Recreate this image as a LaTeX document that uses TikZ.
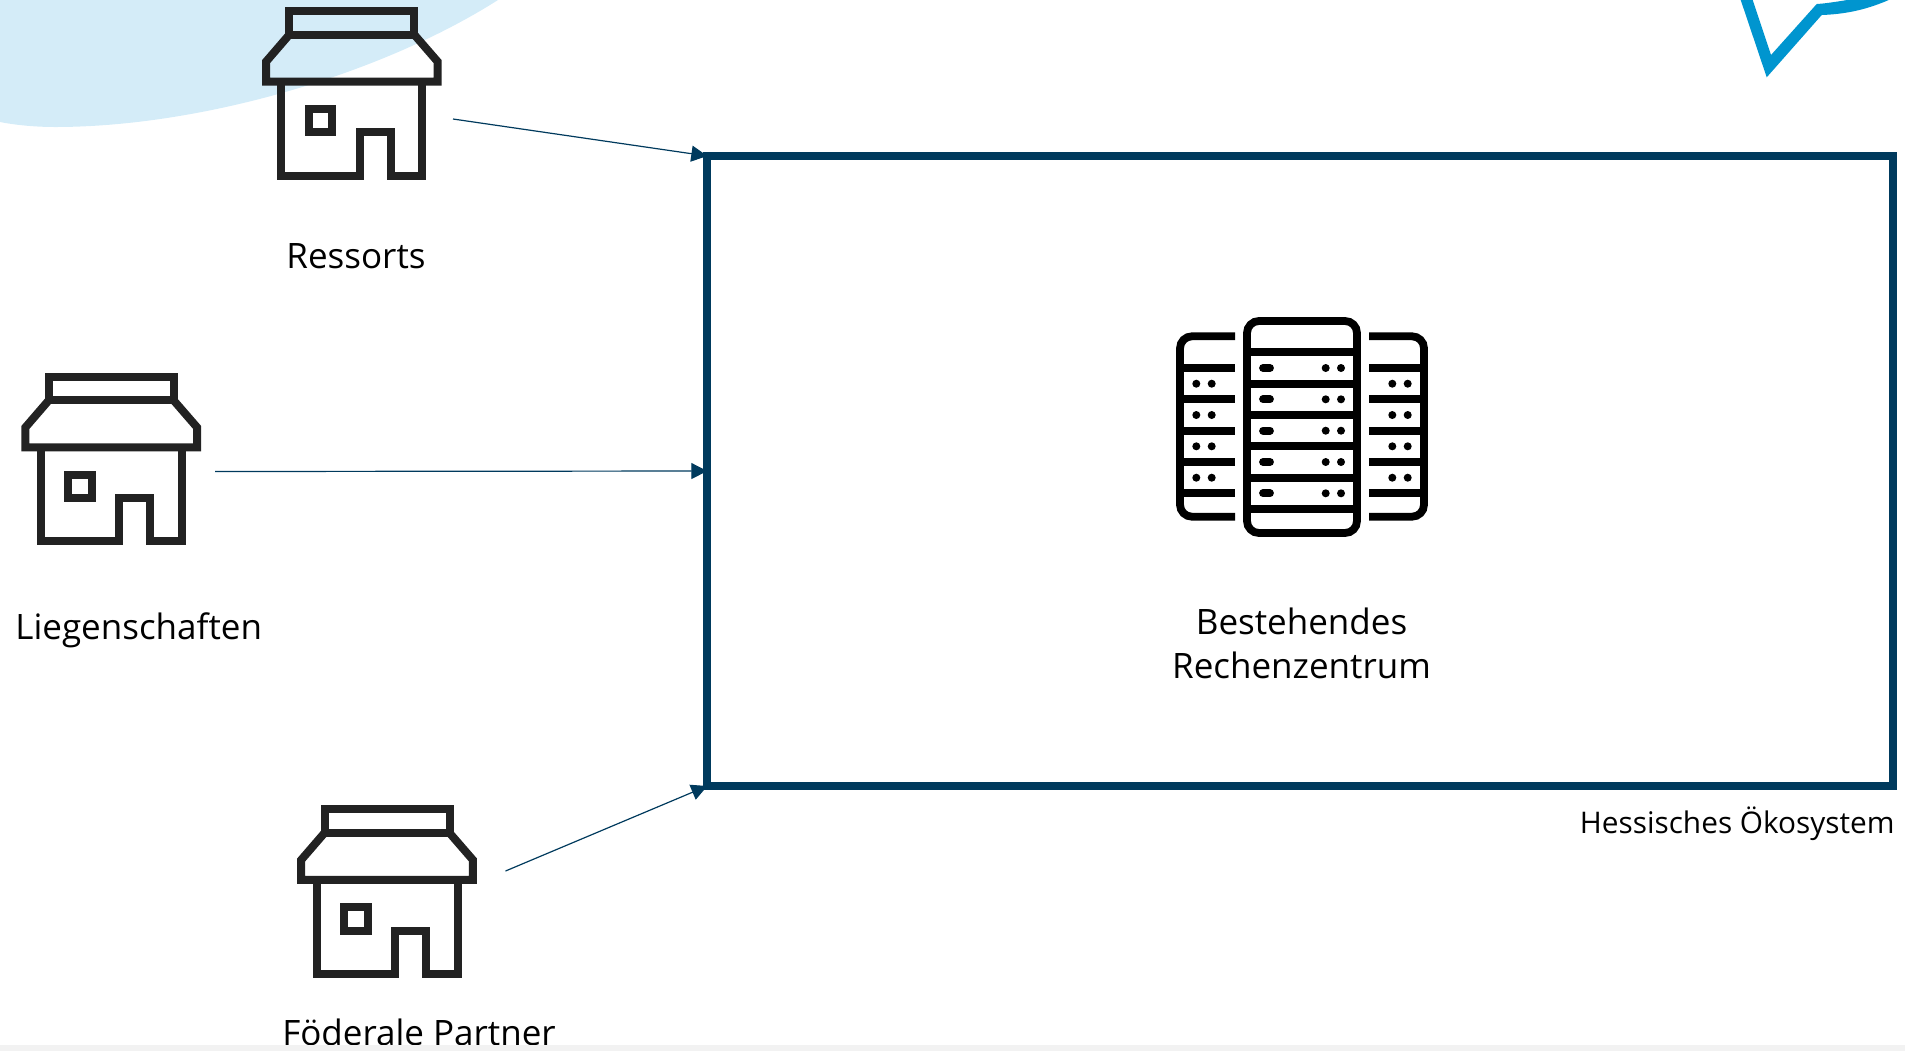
\documentclass[tikz,border=0pt]{standalone}
\usepackage{fontspec}
\setmainfont{Open Sans}
\usetikzlibrary{arrows.meta}
\definecolor{navy}{HTML}{003A5D}
\definecolor{paleblue}{HTML}{D4ECF8}
\definecolor{bubbleblue}{HTML}{0095CF}
\definecolor{iconink}{HTML}{222222}
\definecolor{stripgrey}{HTML}{F2F2F2}
\tikzset{
  x=0.5pt,y=-0.5pt,
  lbl/.style={inner sep=0pt,anchor=base,font=\fontsize{17.5pt}{20pt}\selectfont,text=black},
  smalllbl/.style={inner sep=0pt,anchor=base east,font=\fontsize{14.9pt}{17pt}\selectfont,text=black},
  link/.style={navy,line width=0.6pt,-{Triangle[length=8pt,width=8pt]}},
  rackline/.style={black,line width=3.9pt},
  housepic/.pic={
    \begin{scope}[iconink,line width=4pt,miter limit=10]
      \draw (49.3,11) rectangle (174.3,34.7);
      \draw (49.3,34.7) -- (26,61.7) -- (26,81.7) -- (197.7,81.7) -- (197.7,61.7) -- (174.3,34.7);
      \draw (41.3,81.7) -- (41.3,175.7) -- (119.7,175.7) -- (119.7,132.3) -- (151,132.3) -- (151,175.7) -- (182.3,175.7) -- (182.3,81.7);
      \draw (69,109) rectangle (92.3,132.3);
    \end{scope}
  }
}
\newcommand{\dotpair}[3]{\fill (#1,#3) circle (4) (#2,#3) circle (4);}
\begin{document}
\begin{tikzpicture}
\useasboundingbox (0,0) rectangle (1905,1051);
\clip (0,0) rectangle (1905,1051);
% decorative shapes cut by the top edge
\fill[paleblue] (0,0) -- (498,0) .. controls (380,75) and (200,127) .. (55,127) .. controls (35,127) and (15,125) .. (0,122) -- cycle;
\fill[bubbleblue] (1740.7,0) -- (1766.7,77.3) -- (1821.7,15) .. controls (1850,14) and (1870,8) .. (1888.7,0) -- (1847,0) .. controls (1835,2) and (1825,3.5) .. (1816.7,4) -- (1771,55) -- (1752.7,0) -- cycle;
% ecosystem box
\node[draw=navy,line width=3.85pt,outer sep=0pt,minimum width=593pt,minimum height=315pt,inner sep=0pt,anchor=north west] (eco) at (707.3,156) {};
% houses
\pic at (240,0) {housepic};
\pic at (-0.6,365.7) {housepic};
\pic at (275.2,798.2) {housepic};
% server icon
\begin{scope}[black]
  \draw[rackline,rounded corners=6pt] (1247,321) rectangle (1357,533);
  \foreach \yy in {352.3,384,415,446.3,477.7,509} \draw[rackline] (1247,\yy) -- (1357,\yy);
  \draw[rackline,rounded corners=6pt] (1235,336.3) -- (1180,336.3) -- (1180,516.7) -- (1235,516.7);
  \draw[rackline,rounded corners=6pt] (1369,336.3) -- (1424,336.3) -- (1424,516.7) -- (1369,516.7);
  \foreach \yy in {368,399.3,430.7,462,493.3} {
    \draw[rackline] (1180,\yy) -- (1235,\yy);
    \draw[rackline] (1369,\yy) -- (1424,\yy);
    \draw[line width=3.9pt,line cap=round] (1263,\yy) -- (1270,\yy);
    \dotpair{1325.7}{1341}{\yy}
  }
  \foreach \yy in {383.7,415,446.3,477.7} {
    \dotpair{1196.3}{1211.7}{\yy}
    \dotpair{1392.3}{1407.7}{\yy}
  }
\end{scope}
% labels
\node[lbl] (ressorts) at (356,268.5) {Ressorts};
\node[lbl,anchor=base west] (liegen) at (15,639) {Liegenschaften};
\node[lbl] (foederal) at (419,1045) {Föderale Partner};
\node[lbl] (rz1) at (1301.5,634) {Bestehendes};
\node[lbl] (rz2) at (1301.5,678) {Rechenzentrum};
\node[smalllbl] (oeko) at (1895,833.5) {Hessisches Ökosystem};
% connector start points
\coordinate (startR) at (453,119);
\coordinate (startL) at (215,471.5);
\coordinate (startF) at (505.5,871);
\draw[link] (startR) -- (eco.north west);
\draw[link] (startL) -- (eco.west);
\draw[link] (startF) -- (eco.south west);
% bottom strip
\fill[stripgrey] (0,1045) rectangle (1905,1051);
\end{tikzpicture}
\end{document}
